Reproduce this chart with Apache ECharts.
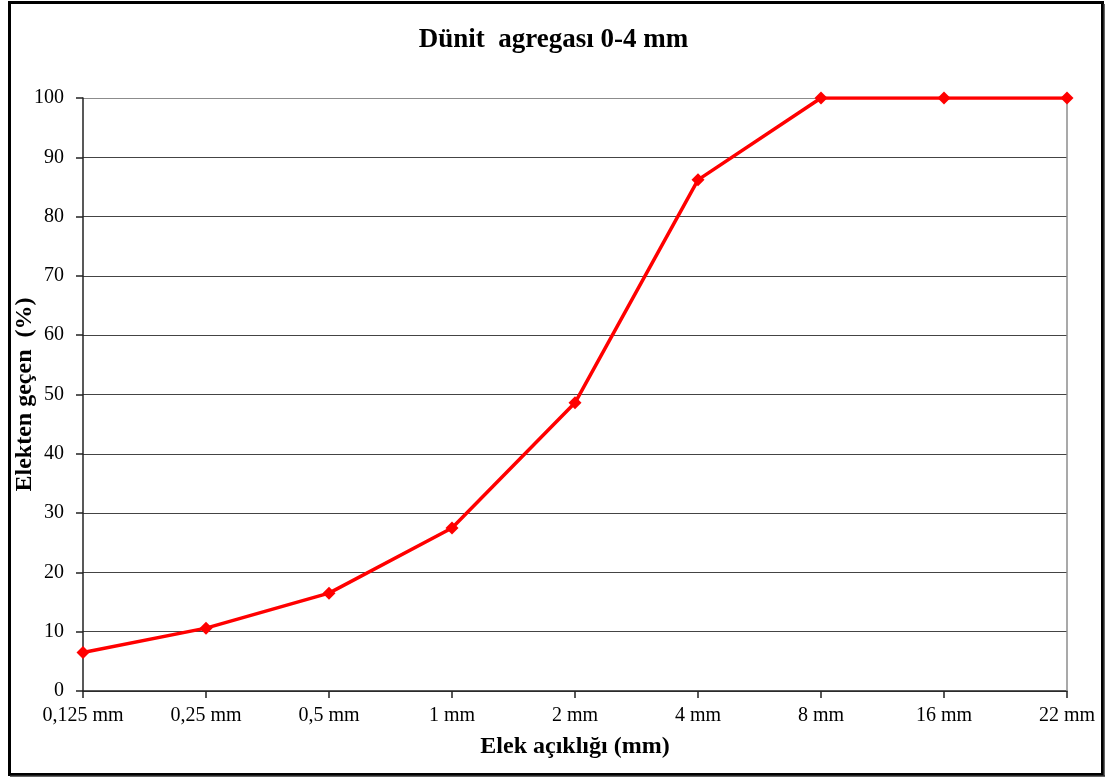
<!DOCTYPE html>
<html>
<head>
<meta charset="utf-8">
<style>
  html, body { margin: 0; padding: 0; background: #fff; }
  #chart { width: 1107px; height: 778px; }
</style>
<script src="https://cdn.jsdelivr.net/npm/echarts@6/dist/echarts.min.js"></script>
</head>
<body>
<div id="chart"></div>
<script>
// Sieve sizes and passing percentages
const sieveSizes = ['0,125 mm', '0,25 mm', '0,5 mm', '1 mm', '2 mm', '4 mm', '8 mm', '16 mm', '22 mm'];
const passingPercent = [6.5, 10.6, 16.5, 27.5, 48.6, 86.2, 100, 100, 100];

const chartTitle = 'Dünit  agregası 0-4 mm';
const xAxisName = 'Elek açıklığı (mm)';
const yAxisName = 'Elekten geçen  (%)';

const serif = '"Liberation Serif", "Times New Roman", serif';

// gridline colours: dark for the interior, grey for the top (plot border)
const gridColors = ['#444', '#444', '#444', '#444', '#444', '#444', '#444', '#444', '#444', '#444', '#8c8c8c'];

const chart = echarts.init(document.getElementById('chart'));
chart.setOption({
  animation: false,
  backgroundColor: '#fff',
  title: {
    text: chartTitle,
    left: 'center',
    top: 22,
    textStyle: { fontFamily: serif, fontSize: 27, fontWeight: 'bold', color: '#000' }
  },
  graphic: [
    // outer chart frame with shadow on bottom and right
    { type: 'rect', shape: { x: 9.5, y: 2.5, width: 1093, height: 772 }, style: { fill: 'none', stroke: '#000', lineWidth: 3 }, z: 10 },
    { type: 'line', shape: { x1: 1104, y1: 4, x2: 1104, y2: 776 }, style: { stroke: '#333', lineWidth: 1.5 }, z: 10 },
    { type: 'line', shape: { x1: 10, y1: 776, x2: 1105, y2: 776 }, style: { stroke: '#333', lineWidth: 1.5 }, z: 10 },
    // right edge of the plot area
    { type: 'line', shape: { x1: 1067, y1: 98, x2: 1067, y2: 691 }, style: { stroke: '#8c8c8c', lineWidth: 1.5 }, z: 1 }
  ],
  grid: { left: 83, right: 40, top: 98, bottom: 87, containLabel: false, outerBoundsMode: 'none' },
  xAxis: {
    type: 'category',
    data: sieveSizes,
    boundaryGap: false,
    name: xAxisName,
    nameLocation: 'middle',
    nameGap: 44,
    nameMoveOverlap: false,
    nameTextStyle: { fontFamily: serif, fontSize: 24, fontWeight: 'bold', color: '#000' },
    axisLine: { lineStyle: { color: '#222', width: 1.5 } },
    axisTick: { show: true, alignWithLabel: true, length: 7, lineStyle: { color: '#222', width: 1.5 } },
    axisLabel: { fontFamily: serif, fontSize: 20, color: '#000', margin: 15 },
    splitLine: { show: false }
  },
  yAxis: {
    type: 'value',
    min: 0,
    max: 100,
    interval: 10,
    name: yAxisName,
    nameLocation: 'middle',
    nameGap: 46,
    nameMoveOverlap: false,
    nameTextStyle: { fontFamily: serif, fontSize: 24, fontWeight: 'bold', color: '#000' },
    axisLine: { show: true, lineStyle: { color: '#222', width: 1.5 } },
    axisTick: { show: true, inside: false, length: 7, lineStyle: { color: '#222', width: 1.5 } },
    axisLabel: { fontFamily: serif, fontSize: 20, color: '#000', margin: 19 },
    splitLine: { show: true, lineStyle: { color: gridColors, width: 1.2 } }
  },
  series: [{
    type: 'line',
    data: passingPercent,
    symbol: 'diamond',
    symbolSize: 13,
    lineStyle: { color: '#ff0000', width: 3.5 },
    itemStyle: { color: '#ff0000' },
    z: 5
  }]
});
</script>
</body>
</html>
